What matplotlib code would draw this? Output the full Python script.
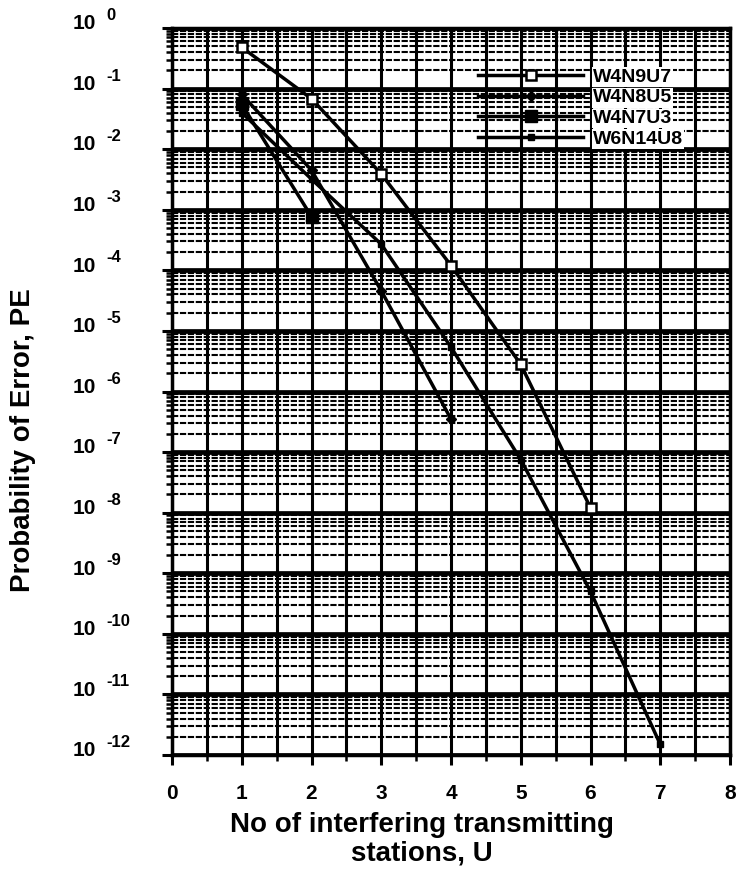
import matplotlib
matplotlib.use('Agg')
import matplotlib.pyplot as plt
import matplotlib.transforms as mtransforms
from matplotlib.ticker import LogLocator, MultipleLocator, NullFormatter

plt.rcParams['font.family'] = ['Liberation Sans', 'DejaVu Sans']
plt.rcParams['font.weight'] = 'bold'

# values
u_w4n9u7 = [1, 2, 3, 4, 5, 6]
pe_w4n9u7 = [0.48, 0.068, 3.9e-3, 1.2e-4, 2.8e-6, 1.2e-8]
u_w4n8u5 = [1, 2, 3, 4]
pe_w4n8u5 = [0.08, 4.5e-3, 4.6e-5, 3.5e-7]
u_w4n7u3 = [1, 2]
pe_w4n7u3 = [0.055, 7.7e-4]
u_w6n14u8 = [1, 2, 3, 4, 5, 6, 7]
pe_w6n14u8 = [0.04, 3.2e-3, 2.7e-4, 5.4e-6, 7.5e-8, 5e-10, 1.5e-12]

x_ticks = [0, 1, 2, 3, 4, 5, 6, 7, 8]
y_exponents = [0, -1, -2, -3, -4, -5, -6, -7, -8, -9, -10, -11, -12]

W, H = 736, 874
fig = plt.figure(figsize=(W / 100, H / 100), dpi=100)
left, right, top, bottom = 172, 730, 28, 755
ax = fig.add_axes([left / W, 1 - bottom / H, (right - left) / W, (bottom - top) / H])

ax.set_yscale('log')
ax.set_xlim(0, 8)
ax.set_ylim(1e-12, 1)

ax.xaxis.set_major_locator(MultipleLocator(1))
ax.xaxis.set_minor_locator(MultipleLocator(0.5))
ax.yaxis.set_major_locator(LogLocator(base=10, numticks=20))
ax.yaxis.set_minor_locator(LogLocator(base=10, subs=range(2, 10), numticks=200))
ax.yaxis.set_minor_formatter(NullFormatter())
ax.yaxis.set_major_formatter(NullFormatter())
ax.set_xticks(x_ticks)

# heavy graph-paper grid
ax.grid(True, which='major', axis='y', color='black', lw=3.4)
ax.grid(True, which='minor', axis='y', color='black', lw=1.5, ls=(0, (3, 0.8)))
ax.grid(True, which='both', axis='x', color='black', lw=2.2)
ax.set_axisbelow(True)

for s in ax.spines.values():
    s.set_linewidth(2.5)

ax.tick_params(axis='both', which='major', direction='out', length=7, width=2.2,
               labelsize=15)
ax.tick_params(axis='x', which='major', pad=14)
ax.tick_params(axis='both', which='minor', direction='out', length=4, width=1.8)
for lab in ax.get_xticklabels():
    lab.set_fontweight('bold')

# y tick labels written as "10" with a raised exponent, like the scan
trans = mtransforms.blended_transform_factory(fig.transFigure, ax.transData)
base_shift = mtransforms.ScaledTranslation(0, 3 / 72, fig.dpi_scale_trans)
exp_shift = mtransforms.ScaledTranslation(0, 9 / 72, fig.dpi_scale_trans)
for e in y_exponents:
    ax.text(96 / W, 10.0 ** e, '10', transform=trans + base_shift,
            ha='right', va='center', fontsize=15, fontweight='bold', clip_on=False)
    ax.text(106 / W, 10.0 ** e, '%d' % e, transform=trans + exp_shift,
            ha='left', va='center', fontsize=12, fontweight='bold', clip_on=False)

ax.plot(u_w4n9u7, pe_w4n9u7, color='black', lw=2.5, marker='s', ms=7,
        mfc='white', mec='black', mew=1.8, label='W4N9U7', zorder=5)
ax.plot(u_w4n8u5, pe_w4n8u5, color='black', lw=2.5, marker='D', ms=5,
        mfc='black', mec='black', label='W4N8U5', zorder=5)
ax.plot(u_w4n7u3, pe_w4n7u3, color='black', lw=2.5, marker='s', ms=8,
        mfc='black', mec='black', label='W4N7U3', zorder=5)
ax.plot(u_w6n14u8, pe_w6n14u8, color='black', lw=2.5, marker='s', ms=5,
        mfc='black', mec='black', label='W6N14U8', zorder=5)

leg = ax.legend(loc='upper right', bbox_to_anchor=((683 - left) / (right - left), (bottom - 68) / (bottom - top)),
                frameon=False, fontsize=14, handlelength=5.4, handletextpad=0.5,
                labelspacing=0.16, borderpad=0, borderaxespad=0)
for t in leg.get_texts():
    t.set_fontweight('bold')
    t.set_bbox(dict(facecolor='white', edgecolor='none', pad=1.0))

fig.text(23 / W, 1 - 440 / H, 'Probability of Error, PE', rotation=90, fontsize=20,
         fontweight='bold', ha='center', va='center')
fig.text(422 / W, 1 - 839 / H, 'No of interfering transmitting\nstations, U', fontsize=20,
         fontweight='bold', ha='center', va='center', linespacing=1.15)

fig.savefig('out.png', dpi=100, facecolor='white')
